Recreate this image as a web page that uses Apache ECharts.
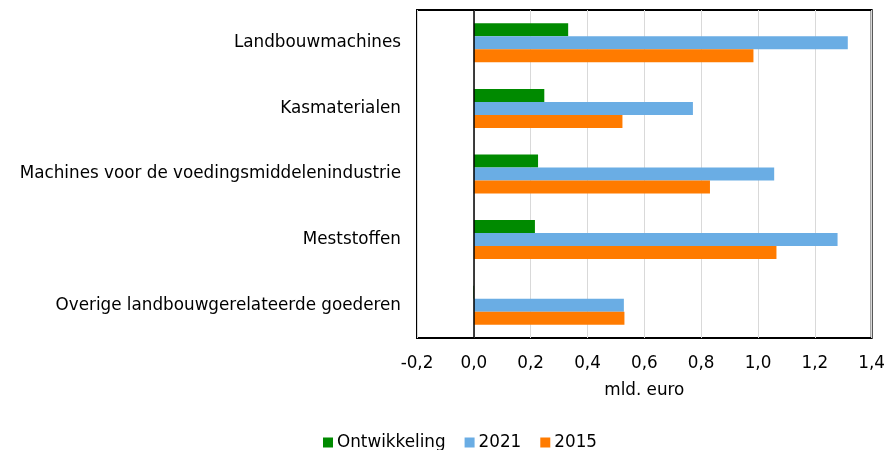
<!DOCTYPE html>
<html>
<head>
<meta charset="utf-8">
<script src="https://cdn.jsdelivr.net/npm/echarts@6/dist/echarts.min.js"></script>
<style>
  html, body { margin: 0; padding: 0; background: #fff; }
</style>
</head>
<body>
<div id="chart" style="width: 888px; height: 450px;"></div>
<script>
  // categories, top to bottom
  const categories = [
    'Landbouwmachines',
    'Kasmaterialen',
    'Machines voor de voedingsmiddelenindustrie',
    'Meststoffen',
    'Overige landbouwgerelateerde goederen'
  ]
  const ontwikkeling = [0.332, 0.248, 0.226, 0.215, -0.002] // 2021 t.o.v. 2015
  const jaar2021 = [1.316, 0.771, 1.057, 1.280, 0.528]
  const jaar2015 = [0.984, 0.523, 0.831, 1.065, 0.530]

  const fmt = v => v.toFixed(1).replace('.', ',')
  const font = '"DejaVu Sans"'
  const fs = 16.8

  const chart = echarts.init(document.getElementById('chart'))
  chart.setOption({
    animation: false,
    textStyle: { fontFamily: font },
    grid: {
      left: 417,
      right: 16,
      top: 10,
      bottom: 112,
      show: true,
      borderColor: '#000',
      borderWidth: 2,
      containLabel: false
    },
    legend: {
      top: 429,
      left: 318,
      itemWidth: 10,
      itemHeight: 10,
      itemGap: 19,
      icon: 'rect',
      textStyle: { fontFamily: font, fontSize: fs, color: '#000', padding: [0, 0, 0, -1] },
      data: ['Ontwikkeling', '2021', '2015']
    },
    xAxis: {
      type: 'value',
      min: -0.2,
      max: 1.4,
      interval: 0.2,
      name: 'mld. euro',
      nameLocation: 'middle',
      nameGap: 44,
      nameTextStyle: { fontFamily: font, fontSize: fs, color: '#000' },
      axisLine: { show: false },
      axisTick: { show: false },
      axisLabel: {
        fontFamily: font, fontSize: fs, color: '#000', margin: 17,
        formatter: fmt
      },
      splitLine: { show: true, lineStyle: { color: '#d9d9d9', width: 1 } }
    },
    yAxis: {
      type: 'category',
      inverse: true,
      data: categories,
      axisLine: { show: false },
      axisTick: { show: false },
      axisLabel: { fontFamily: font, fontSize: fs, color: '#000', margin: 16 },
      splitLine: { show: false }
    },
    series: [
      {
        name: 'Ontwikkeling',
        type: 'bar',
        data: ontwikkeling,
        barWidth: 13,
        barGap: '0%',
        itemStyle: { color: '#008a00' },
        markLine: {
          silent: true,
          symbol: 'none',
          label: { show: false },
          lineStyle: { color: '#000', width: 1.5, type: 'solid' },
          data: [{ xAxis: 0 }]
        }
      },
      {
        name: '2021',
        type: 'bar',
        data: jaar2021,
        barWidth: 13,
        barGap: '0%',
        itemStyle: { color: '#6aade4' }
      },
      {
        name: '2015',
        type: 'bar',
        data: jaar2015,
        barWidth: 13,
        barGap: '0%',
        itemStyle: { color: '#ff7b00' }
      }
    ]
  })
</script>
</body>
</html>
